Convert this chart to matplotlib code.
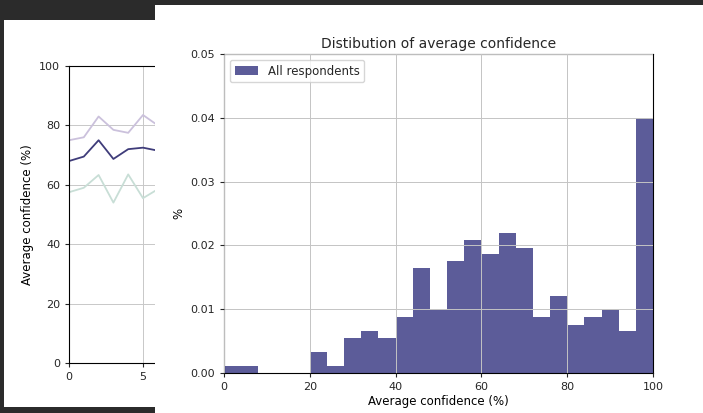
import numpy as np
import matplotlib
matplotlib.use("Agg")
import matplotlib.pyplot as plt

# Left (partly hidden) panel: average confidence per round
rounds = [0, 1, 2, 3, 4, 5, 6]
upper_conf = [75, 76, 83, 78.5, 77.5, 83.5, 80]
mean_conf = [68, 69.5, 75, 68.7, 72, 72.5, 71.5]
lower_conf = [57.5, 59, 63.3, 54, 63.5, 55.5, 58.5]

# Main panel: histogram of average confidence (density per 4% bin)
bin_edges = list(range(0, 101, 4))
bin_density = [0.0011, 0.0011, 0.0, 0.0, 0.0, 0.0033, 0.0011, 0.0055,
               0.0066, 0.0055, 0.0087, 0.0164, 0.0099, 0.0175, 0.0208,
               0.0186, 0.0219, 0.0196, 0.0087, 0.012, 0.0076, 0.0087,
               0.0099, 0.0066, 0.040]

plt.rcParams["font.family"] = "DejaVu Sans"
plt.rcParams["font.size"] = 8.5
plt.rcParams["xtick.labelsize"] = 8
plt.rcParams["ytick.labelsize"] = 8
plt.rcParams["xtick.major.size"] = 2.8
plt.rcParams["ytick.major.size"] = 2.8
plt.rcParams["axes.linewidth"] = 0.8
plt.rcParams["text.color"] = "#262626"
plt.rcParams["xtick.color"] = "#262626"
plt.rcParams["ytick.color"] = "#262626"

W, H = 703, 413
fig = plt.figure(figsize=(W / 100, H / 100), dpi=100, facecolor="#2b2b2b")


def px_axes(x0, y0, x1, y1, zorder):
    # axes from pixel box (top-left origin)
    return fig.add_axes([x0 / W, (H - y1) / H, (x1 - x0) / W, (y1 - y0) / H],
                        zorder=zorder)


def blank_panel(ax):
    ax.set_xticks([])
    ax.set_yticks([])
    for s in ax.spines.values():
        s.set_visible(False)
    ax.set_facecolor("white")


# back window
back = px_axes(4, 20, 500, 407, 0)
blank_panel(back)

# left line chart (covered on the right by the front window)
ax1 = px_axes(69, 66, 291, 363, 1)
ax1.plot(rounds, upper_conf, color="#cbc1dc", lw=1.3)
ax1.plot(rounds, mean_conf, color="#3f3c7a", lw=1.3)
ax1.plot(rounds, lower_conf, color="#c8ded6", lw=1.3)
ax1.set_xlim(0, 15)
ax1.set_ylim(0, 100)
ax1.set_xticks([0, 5, 10, 15])
ax1.set_yticks([0, 20, 40, 60, 80, 100])
ax1.grid(True, color="#c8c8c8", lw=0.7)
ax1.set_ylabel("Average confidence (%)")

# front window
front = px_axes(155, 5, 720, 420, 2)
blank_panel(front)

# main histogram
ax = px_axes(224, 54, 653, 373, 3)
ax.hist(bin_edges[:-1], bins=bin_edges, weights=bin_density,
        color="#5c5c99", label="All respondents")
ax.set_axisbelow(False)
ax.grid(True, color="#c4c4c4", lw=0.7)
ax.set_xlim(0, 100)
ax.set_ylim(0, 0.05)
ax.set_xticks([0, 20, 40, 60, 80, 100])
ax.set_yticks([0.0, 0.01, 0.02, 0.03, 0.04, 0.05])
ax.yaxis.set_major_formatter(matplotlib.ticker.FormatStrFormatter("%.2f"))
ax.tick_params(axis="x", pad=4)
ax.set_title("Distibution of average confidence", fontsize=10, pad=4)
ax.set_xlabel("Average confidence (%)", labelpad=2)
ax.set_ylabel("%")
ax.legend(loc="upper left", fontsize=8.5)

fig.savefig("out.png", dpi=100, facecolor=fig.get_facecolor())
